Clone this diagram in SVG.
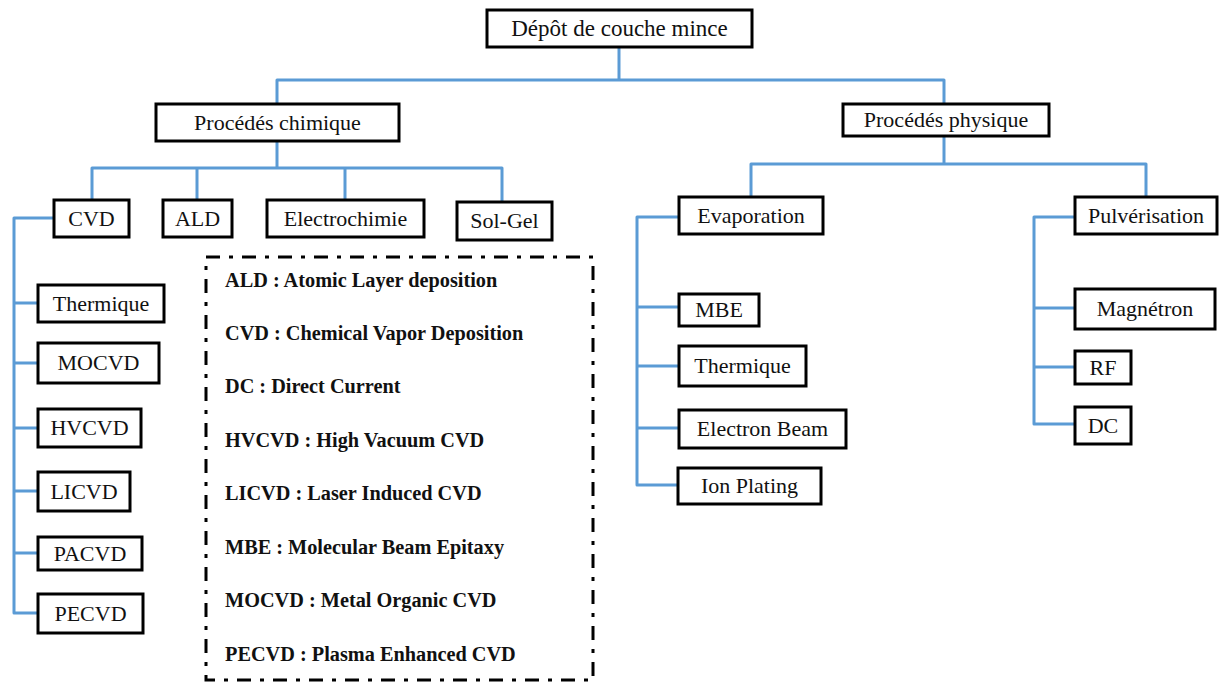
<svg xmlns="http://www.w3.org/2000/svg" width="1219" height="682" viewBox="0 0 1219 682">
<style>
.n rect{fill:#fff;stroke:#000;stroke-width:3}
.n text{font-family:"Liberation Serif","Times New Roman",serif;font-size:22px;fill:#111;text-anchor:middle}
.c path{fill:none;stroke:#5b9bd5;stroke-width:3;stroke-linejoin:round;stroke-linecap:butt}
.lg{fill:none;stroke:#000;stroke-width:3;stroke-dasharray:14 9 4 9}
.lt{font-family:"Liberation Serif","Times New Roman",serif;font-size:20.3px;font-weight:bold;fill:#111}
</style>
<rect width="1219" height="682" fill="#fff"/>
<g id="connectors" class="c">
<path d="M619,47 V80"/>
<path d="M277,104 V80 H944 V104"/>
<path d="M277,141 V168"/>
<path d="M92,200 V168 H502 V202"/>
<path d="M197,168 V200"/>
<path d="M345,168 V200"/>
<path d="M944,136 V164"/>
<path d="M751,197 V164 H1146 V197"/>
<path d="M54,218 H14 V613 H38"/>
<path d="M14,303 H38 M14,363 H38 M14,428 H38 M14,491 H38 M14,553 H38"/>
<path d="M679,217 H637 V485 H678"/>
<path d="M637,307 H679 M637,366 H679 M637,428 H679"/>
<path d="M1075,217 H1034 V424 H1075"/>
<path d="M1034,308 H1075 M1034,367 H1075"/>
</g>
<g id="root" class="n"><rect x="487" y="10" width="265" height="37"/><text x="619.5" y="36" style="font-size:23px">Dépôt de couche mince</text></g>
<g id="chimique" class="n"><rect x="156" y="104" width="243" height="37"/><text x="277.5" y="130">Procédés chimique</text></g>
<g id="physique" class="n"><rect x="843" y="104" width="206" height="32"/><text x="946" y="127">Procédés physique</text></g>
<g id="cvd" class="n"><rect x="54" y="200" width="75" height="37"/><text x="91.5" y="226">CVD</text></g>
<g id="ald" class="n"><rect x="163" y="200" width="69" height="37"/><text x="197.5" y="226">ALD</text></g>
<g id="electrochimie" class="n"><rect x="267" y="200" width="157" height="37"/><text x="345.5" y="226">Electrochimie</text></g>
<g id="solgel" class="n"><rect x="457" y="202" width="95" height="38"/><text x="504.5" y="228">Sol-Gel</text></g>
<g id="thermique1" class="n"><rect x="38" y="285" width="126" height="37"/><text x="101" y="311">Thermique</text></g>
<g id="mocvd" class="n"><rect x="38" y="343" width="121" height="40"/><text x="98.5" y="370">MOCVD</text></g>
<g id="hvcvd" class="n"><rect x="38" y="409" width="103" height="38"/><text x="89.5" y="435">HVCVD</text></g>
<g id="licvd" class="n"><rect x="38" y="472" width="92" height="39"/><text x="84" y="499">LICVD</text></g>
<g id="pacvd" class="n"><rect x="38" y="537" width="104" height="33"/><text x="90" y="561">PACVD</text></g>
<g id="pecvd" class="n"><rect x="38" y="594" width="105" height="39"/><text x="90.5" y="621">PECVD</text></g>
<g id="evaporation" class="n"><rect x="679" y="197" width="144" height="37"/><text x="751" y="223">Evaporation</text></g>
<g id="mbe" class="n"><rect x="679" y="294" width="80" height="32"/><text x="719" y="317">MBE</text></g>
<g id="thermique2" class="n"><rect x="679" y="346" width="127" height="40"/><text x="742.5" y="373">Thermique</text></g>
<g id="ebeam" class="n"><rect x="679" y="410" width="167" height="38"/><text x="762.5" y="436">Electron Beam</text></g>
<g id="ionplating" class="n"><rect x="678" y="468" width="143" height="36"/><text x="749.5" y="493">Ion Plating</text></g>
<g id="pulverisation" class="n"><rect x="1075" y="197" width="142" height="37"/><text x="1146" y="223">Pulvérisation</text></g>
<g id="magnetron" class="n"><rect x="1075" y="289" width="140" height="40"/><text x="1145" y="316">Magnétron</text></g>
<g id="rf" class="n"><rect x="1075" y="351" width="56" height="33"/><text x="1103" y="375">RF</text></g>
<g id="dc" class="n"><rect x="1075" y="407" width="56" height="37"/><text x="1103" y="433">DC</text></g>
<g id="legend">
<rect class="lg" x="206" y="257" width="387" height="423"/>
<text class="lt" x="225" y="287">ALD : Atomic Layer deposition</text>
<text class="lt" x="225" y="340">CVD : Chemical Vapor Deposition</text>
<text class="lt" x="225" y="393">DC : Direct Current</text>
<text class="lt" x="225" y="447">HVCVD : High Vacuum CVD</text>
<text class="lt" x="225" y="500">LICVD : Laser Induced CVD</text>
<text class="lt" x="225" y="554">MBE : Molecular Beam Epitaxy</text>
<text class="lt" x="225" y="607">MOCVD : Metal Organic CVD</text>
<text class="lt" x="225" y="661">PECVD : Plasma Enhanced CVD</text>
</g>
</svg>
